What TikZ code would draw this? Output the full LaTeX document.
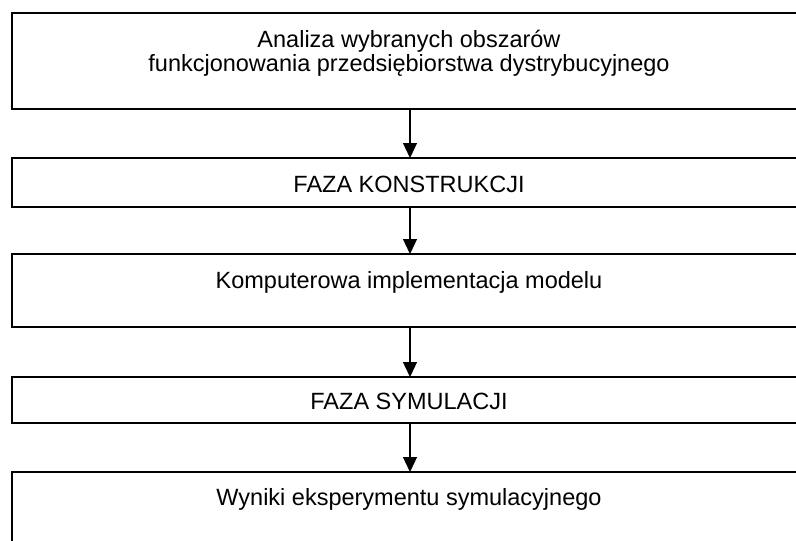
\documentclass[tikz,border=0pt]{standalone}
\usepackage{fontspec}
\setmainfont{Liberation Sans}
\usetikzlibrary{arrows.meta}
\begin{document}
\begin{tikzpicture}[x=1pt,y=-1pt,
  boxst/.style={draw, line width=1.6pt, minimum width=796pt, inner sep=0pt, outer sep=0pt},
  txt/.style={anchor=base, font=\fontsize{23.5}{28}\selectfont, inner sep=0pt},
  arr/.style={-{Triangle[length=15pt,width=14pt]}, line width=1.3pt}]
\useasboundingbox (0,0) rectangle (796,541);
\node[boxst, minimum height=96pt] (b1) at (410,61) {};
\node[boxst, minimum height=49pt] (b2) at (410,182.5) {};
\node[boxst, minimum height=73pt] (b3) at (410,290.5) {};
\node[boxst, minimum height=46pt] (b4) at (410,400) {};
\node[boxst, minimum height=148pt] (b5) at (410,546) {};
\node[txt] (t1a) at (409,47) {Analiza wybranych obszarów};
\node[txt] (t1b) at (409,71) {funkcjonowania przedsiębiorstwa dystrybucyjnego};
\node[txt] (t2) at (409,192) {FAZA KONSTRUKCJI};
\node[txt] (t3) at (409,288) {Komputerowa implementacja modelu};
\node[txt] (t4) at (409,409) {FAZA SYMULACJI};
\node[txt] (t5) at (409,505) {Wyniki eksperymentu symulacyjnego};
\draw[arr] (b1.south) -- (b2.north);
\draw[arr] (b2.south) -- (b3.north);
\draw[arr] (b3.south) -- (b4.north);
\draw[arr] (b4.south) -- (b5.north);
\end{tikzpicture}
\end{document}
